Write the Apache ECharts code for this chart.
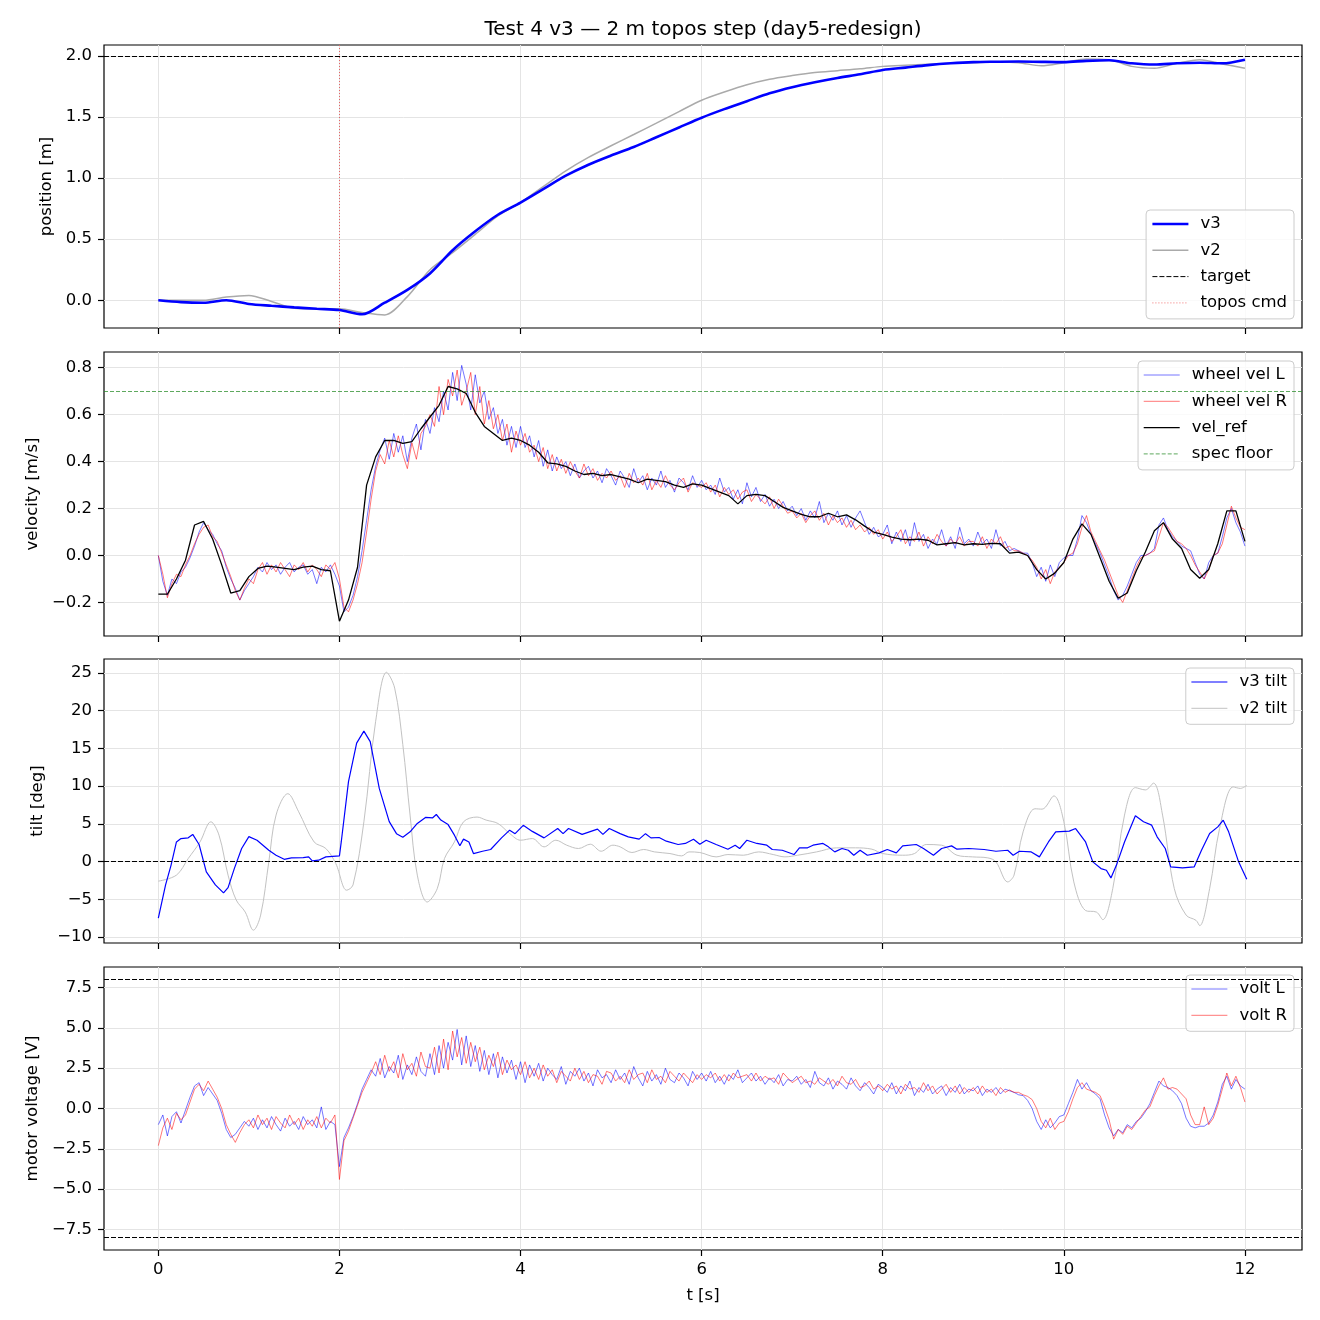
<!DOCTYPE html>
<html>
<head>
<meta charset="utf-8">
<title>Test 4 v3 — 2 m topos step</title>
<script src="https://cdn.jsdelivr.net/npm/echarts@6/dist/echarts.min.js"></script>
<style>
  html, body { margin: 0; padding: 0; background: #ffffff; }
  #chart { width: 1320px; height: 1320px; }
</style>
</head>
<body>
<div id="chart"></div>
<script>
const chart = echarts.init(document.getElementById('chart'));

const TITLE = 'Test 4 v3 — 2 m topos step (day5-redesign)';

// sampling steps of the logged channels [s]
const DT_POS = 0.25;
const DT_REF = 0.1;
const DT_FAST = 0.05;

const X_TICKS = [0, 2, 4, 6, 8, 10, 12];
const POS_TICKS = [0, 0.5, 1, 1.5, 2];
const VEL_TICKS = [-0.2, 0, 0.2, 0.4, 0.6, 0.8];
const TILT_TICKS = [-10, -5, 0, 5, 10, 15, 20, 25];
const VOLT_TICKS = [-7.5, -5, -2.5, 0, 2.5, 5, 7.5];

const TARGET = 2.0;
const TOPOS_T = 2.0;
const SPEC_FLOOR = 0.7;
const VOLT_LIMIT = 8;

// position [m], every 0.25 s
const posV3 = [0.0, -0.015, -0.02, 0.0, -0.03, -0.045, -0.058, -0.07, -0.08, -0.115,
  -0.02, 0.085, 0.22, 0.41, 0.565, 0.70, 0.80, 0.91, 1.02, 1.11,
  1.185, 1.255, 1.335, 1.415, 1.495, 1.565, 1.63, 1.695, 1.745, 1.785,
  1.82, 1.85, 1.885, 1.905, 1.925, 1.94, 1.95, 1.953, 1.955, 1.952,
  1.95, 1.96, 1.965, 1.94, 1.93, 1.94, 1.945, 1.94, 1.97];
const posV2 = [0.0, 0.0, 0.0, 0.027, 0.04, -0.01, -0.065, -0.07, -0.07, -0.10,
  -0.12, 0.03, 0.25, 0.39, 0.54, 0.69, 0.80, 0.93, 1.06, 1.17,
  1.265, 1.357, 1.45, 1.545, 1.638, 1.705, 1.765, 1.81, 1.84, 1.865,
  1.88, 1.895, 1.915, 1.925, 1.933, 1.94, 1.945, 1.95, 1.945, 1.92,
  1.945, 1.975, 1.97, 1.915, 1.90, 1.94, 1.97, 1.935, 1.90];

// wheel velocity [m/s], every 0.05 s
const wheelL = [
  0, -0.11, -0.17, -0.10, -0.12, -0.07, -0.05, -0.01, 0.04, 0.10, 0.14, 0.11, 0.09, 0.05, 0.02, -0.05, -0.10, -0.14, -0.19, -0.15,
  -0.12, -0.09, -0.05, -0.07, -0.03, -0.06, -0.04, -0.08, -0.05, -0.03, -0.07, -0.05, -0.04, -0.08, -0.06, -0.12, -0.05, -0.07, -0.04, -0.08,
  -0.13, -0.24, -0.22, -0.17, -0.09, 0.02, 0.15, 0.28, 0.38, 0.45, 0.50, 0.41, 0.52, 0.44, 0.51, 0.40, 0.50, 0.56, 0.45, 0.58,
  0.52, 0.63, 0.57, 0.70, 0.62, 0.78, 0.66, 0.81, 0.73, 0.62, 0.77, 0.65, 0.70, 0.58, 0.63, 0.52, 0.58, 0.47, 0.55, 0.46,
  0.55, 0.46, 0.51, 0.42, 0.49, 0.38, 0.45, 0.36, 0.42, 0.37, 0.40, 0.34, 0.39, 0.33, 0.36, 0.38, 0.33, 0.36, 0.31, 0.37,
  0.34, 0.30, 0.36, 0.33, 0.29, 0.37, 0.31, 0.34, 0.28, 0.33, 0.30, 0.36, 0.29, 0.32, 0.27, 0.33, 0.31, 0.28, 0.34, 0.29,
  0.32, 0.28, 0.30, 0.26, 0.33, 0.27, 0.29, 0.24, 0.28, 0.22, 0.31, 0.25, 0.29, 0.23, 0.26, 0.21, 0.24, 0.20, 0.23, 0.19,
  0.21, 0.17, 0.20, 0.15, 0.19, 0.16, 0.23, 0.14, 0.18, 0.15, 0.19, 0.13, 0.17, 0.12, 0.16, 0.19, 0.14, 0.09, 0.12, 0.08,
  0.09, 0.13, 0.05, 0.10, 0.06, 0.11, 0.04, 0.14, 0.06, 0.09, 0.03, 0.07, 0.05, 0.11, 0.04, 0.08, 0.03, 0.12, 0.05, 0.07,
  0.04, 0.10, 0.05, 0.07, 0.03, 0.11, 0.04, 0.06, 0.02, 0.03, 0.02, 0.01, 0.01, -0.03, -0.09, -0.05, -0.11, -0.04, -0.09, -0.03,
  -0.01, 0.00, 0.00, 0.07, 0.17, 0.14, 0.09, 0.05, 0.01, -0.04, -0.09, -0.15, -0.19, -0.17, -0.13, -0.08, -0.03, 0.00, 0.00, 0.01,
  0.03, 0.13, 0.16, 0.11, 0.08, 0.06, 0.04, 0.03, 0.02, -0.03, -0.08, -0.10, -0.03, 0.00, 0.01, 0.08, 0.16, 0.20, 0.14, 0.10,
  0.04];
const wheelR = [
  0, -0.08, -0.18, -0.12, -0.08, -0.09, -0.04, 0.00, 0.05, 0.09, 0.12, 0.13, 0.08, 0.06, 0.01, -0.04, -0.09, -0.15, -0.19, -0.14,
  -0.10, -0.12, -0.06, -0.03, -0.08, -0.04, -0.07, -0.03, -0.06, -0.09, -0.04, -0.06, -0.03, -0.07, -0.04, -0.06, -0.09, -0.04, -0.06, -0.03,
  -0.10, -0.22, -0.24, -0.19, -0.12, -0.03, 0.10, 0.24, 0.36, 0.43, 0.39, 0.49, 0.42, 0.51, 0.43, 0.37, 0.48, 0.41, 0.52, 0.55,
  0.60, 0.55, 0.72, 0.60, 0.75, 0.68, 0.79, 0.64, 0.70, 0.78, 0.60, 0.72, 0.56, 0.66, 0.54, 0.60, 0.49, 0.56, 0.44, 0.53,
  0.47, 0.52, 0.44, 0.47, 0.40, 0.46, 0.37, 0.43, 0.36, 0.41, 0.35, 0.40, 0.36, 0.33, 0.39, 0.34, 0.37, 0.32, 0.35, 0.33,
  0.36, 0.32, 0.34, 0.29, 0.35, 0.31, 0.33, 0.30, 0.35, 0.28, 0.32, 0.29, 0.34, 0.30, 0.28, 0.31, 0.33, 0.27, 0.31, 0.30,
  0.29, 0.31, 0.27, 0.30, 0.25, 0.29, 0.26, 0.28, 0.24, 0.27, 0.28, 0.23, 0.26, 0.24, 0.22, 0.25, 0.20, 0.24, 0.21, 0.18,
  0.19, 0.16, 0.18, 0.14, 0.17, 0.19, 0.15, 0.18, 0.13, 0.17, 0.14, 0.16, 0.12, 0.15, 0.11, 0.13, 0.10, 0.12, 0.09, 0.11,
  0.07, 0.10, 0.06, 0.08, 0.11, 0.05, 0.08, 0.06, 0.10, 0.04, 0.08, 0.05, 0.09, 0.06, 0.04, 0.07, 0.05, 0.08, 0.04, 0.06,
  0.06, 0.04, 0.08, 0.03, 0.07, 0.05, 0.08, 0.03, 0.04, 0.02, 0.02, 0.01, 0.00, -0.02, -0.05, -0.10, -0.06, -0.12, -0.07, -0.05,
  -0.03, 0.00, 0.01, 0.05, 0.12, 0.17, 0.10, 0.06, 0.02, -0.02, -0.07, -0.12, -0.17, -0.20, -0.15, -0.10, -0.05, -0.01, 0.00, 0.01,
  0.02, 0.08, 0.14, 0.12, 0.09, 0.06, 0.05, 0.03, 0.00, -0.04, -0.07, -0.10, -0.06, 0.00, 0.01, 0.05, 0.13, 0.21, 0.16, 0.12,
  0.11];

// velocity reference [m/s], every 0.1 s
const velRef = [
  -0.165, -0.165, -0.10, -0.02, 0.13, 0.145, 0.07, -0.04, -0.16, -0.15,
  -0.09, -0.055, -0.045, -0.05, -0.055, -0.06, -0.05, -0.045, -0.06, -0.065,
  -0.28, -0.19, -0.05, 0.30, 0.42, 0.49, 0.49, 0.478, 0.485, 0.54,
  0.59, 0.64, 0.72, 0.71, 0.69, 0.61, 0.55, 0.52, 0.49, 0.50,
  0.49, 0.47, 0.44, 0.395, 0.39, 0.38, 0.36, 0.345, 0.35, 0.34,
  0.345, 0.335, 0.325, 0.31, 0.325, 0.32, 0.315, 0.30, 0.29, 0.305,
  0.30, 0.285, 0.27, 0.255, 0.22, 0.255, 0.26, 0.255, 0.23, 0.205,
  0.19, 0.175, 0.165, 0.165, 0.18, 0.165, 0.173, 0.152, 0.125, 0.10,
  0.09, 0.078, 0.07, 0.067, 0.07, 0.065, 0.045, 0.05, 0.055, 0.045,
  0.05, 0.047, 0.052, 0.05, 0.01, 0.014, 0.0, -0.06, -0.10, -0.075,
  -0.03, 0.07, 0.135, 0.09, -0.01, -0.11, -0.182, -0.16, -0.065, 0.015,
  0.105, 0.14, 0.07, 0.03, -0.06, -0.097, -0.06, 0.05, 0.19, 0.19,
  0.06];

// tilt [deg], read at irregular times
const tiltV3T = [0, 0.08, 0.14, 0.2, 0.25, 0.33, 0.38, 0.45, 0.53, 0.63, 0.72, 0.77, 0.84, 0.92, 1.0, 1.09, 1.22, 1.3, 1.39, 1.47,
  1.6, 1.66, 1.7, 1.77, 1.85, 2.0, 2.02, 2.1, 2.19, 2.27, 2.34, 2.44, 2.55, 2.63, 2.7, 2.78, 2.86, 2.95, 3.03, 3.07,
  3.12, 3.2, 3.27, 3.33, 3.37, 3.43, 3.48, 3.58, 3.67, 3.79, 3.88, 3.94, 4.03, 4.13, 4.26, 4.41, 4.47, 4.53, 4.68, 4.85,
  4.91, 4.98, 5.1, 5.19, 5.31, 5.38, 5.44, 5.53, 5.61, 5.74, 5.82, 5.91, 5.98, 6.05, 6.16, 6.29, 6.37, 6.42, 6.5, 6.61,
  6.72, 6.78, 6.89, 7.02, 7.08, 7.17, 7.23, 7.34, 7.4, 7.47, 7.55, 7.62, 7.68, 7.75, 7.83, 7.96, 8.05, 8.15, 8.22, 8.37,
  8.45, 8.56, 8.65, 8.76, 8.82, 8.95, 9.12, 9.25, 9.38, 9.44, 9.51, 9.64, 9.73, 9.83, 9.91, 10.06, 10.13, 10.24, 10.32, 10.41,
  10.47, 10.52, 10.58, 10.67, 10.79, 10.88, 10.97, 11.03, 11.12, 11.18, 11.31, 11.44, 11.52, 11.61, 11.7, 11.76, 11.82, 11.93, 12.02];
const tiltV3 = [-7.5, -3.1, -0.5, 2.6, 3.05, 3.15, 3.6, 2.26, -1.37, -3.1, -4.16, -3.45, -0.9, 1.73, 3.3, 2.83, 1.5, 0.84, 0.3, 0.49,
  0.53, 0.62, 0.1, 0.18, 0.62, 0.75, 2.6, 10.6, 15.7, 17.3, 15.9, 9.7, 5.3, 3.7, 3.23, 3.94, 5.05, 5.85, 5.8, 6.24,
  5.5, 4.9, 3.5, 2.1, 2.97, 2.6, 1.06, 1.37, 1.6, 3.14, 4.16, 3.7, 4.8, 4.0, 3.14, 4.38, 3.7, 4.38, 3.6, 4.3,
  3.6, 4.38, 3.7, 3.28, 2.97, 3.7, 3.14, 3.19, 2.7, 2.26, 2.4, 2.97, 2.3, 2.83, 2.26, 1.64, 2.17, 1.73, 2.83, 2.4,
  2.17, 1.6, 1.5, 0.93, 1.82, 1.82, 2.17, 2.4, 1.95, 1.28, 1.73, 1.5, 0.84, 1.5, 0.84, 1.15, 1.6, 1.15, 2.08, 2.26,
  1.73, 0.84, 1.73, 2.08, 1.64, 1.73, 1.6, 1.37, 1.5, 0.84, 1.37, 1.28, 0.62, 2.6, 3.94, 4.03, 4.38, 2.6, -0.04, -0.93,
  -1.15, -2.17, -0.5, 2.6, 6.07, 5.27, 4.83, 3.28, 1.73, -0.7, -0.84, -0.7, 1.5, 3.72, 4.6, 5.49, 3.94, -0.04, -2.35];
const tiltV2T = [0, 0.2, 0.33, 0.46, 0.58, 0.67, 0.77, 0.86, 0.96, 1.05, 1.13, 1.22, 1.3, 1.43, 1.55, 1.72, 1.85, 1.96, 2.08, 2.15,
  2.27, 2.4, 2.52, 2.61, 2.7, 2.78, 2.86, 2.97, 3.08, 3.16, 3.27, 3.37, 3.52, 3.62, 3.75, 3.88, 4.0, 4.13, 4.26, 4.39,
  4.51, 4.64, 4.77, 4.89, 5.02, 5.1, 5.23, 5.36, 5.48, 5.65, 5.78, 5.86, 5.98, 6.16, 6.29, 6.46, 6.63, 6.79, 6.92, 7.06,
  7.27, 7.49, 7.7, 7.88, 8.0, 8.22, 8.35, 8.48, 8.65, 8.82, 8.99, 9.16, 9.25, 9.38, 9.45, 9.55, 9.68, 9.76, 9.89, 10.0,
  10.11, 10.24, 10.36, 10.43, 10.54, 10.67, 10.79, 10.9, 10.99, 11.09, 11.22, 11.35, 11.46, 11.5, 11.61, 11.72, 11.87, 11.95, 12.02];
const tiltV2 = [-2.6, -1.8, 0.4, 2.6, 5.27, 3.5, -1.8, -5.1, -6.7, -9.1, -7.1, -0.04, 6.16, 9.0, 6.6, 2.6, 1.73, -0.27, -3.8, -3.1,
  5.27, 18.6, 25.1, 23.0, 15.5, 6.16, -1.8, -5.36, -3.6, 0.4, 2.6, 5.27, 5.9, 5.5, 5.05, 3.72, 2.83, 3.05, 1.95, 2.83,
  2.17, 1.73, 2.3, 1.37, 2.17, 1.95, 1.2, 1.6, 1.28, 1.06, 0.75, 1.28, 1.2, 0.62, 0.93, 0.84, 1.28, 0.93, 0.62, 0.84,
  1.28, 1.82, 1.82, 1.64, 1.06, 0.84, 1.06, 2.26, 2.17, 0.84, 0.62, 0.49, -0.04, -2.7, -1.8, 3.94, 7.0, 6.95, 8.7, 5.27,
  -2.7, -6.5, -6.7, -7.7, -3.6, 6.16, 9.8, 9.5, 10.4, 6.16, -3.6, -7.1, -7.8, -8.5, -3.6, 4.4, 9.9, 9.7, 10.1];

// motor voltage [V], every 0.05 s
const voltL = [
  -1.0, -0.4, -1.7, -0.5, -0.2, -0.9, -0.1, 0.7, 1.4, 1.6, 0.8, 1.3, 0.9, 0.5, -0.3, -1.3, -1.8, -1.6, -1.2, -0.8,
  -1.1, -0.6, -1.3, -0.7, -1.2, -0.5, -1.0, -1.4, -0.6, -1.1, -0.8, -1.3, -0.5, -1.0, -0.7, -1.2, 0.1, -1.3, -0.8, -1.0,
  -3.6, -1.8, -1.2, -0.5, 0.3, 1.2, 1.8, 2.4, 2.0, 3.1, 1.9, 2.6, 2.2, 3.3, 1.8, 2.7, 2.1, 3.2, 2.3, 2.0,
  3.4, 2.1, 3.9, 2.5, 4.1, 3.0, 4.9, 2.7, 4.5, 2.6, 3.9, 2.3, 3.6, 2.1, 3.4, 1.9, 3.2, 2.2, 3.0, 1.8,
  2.9, 1.6, 2.7, 2.0, 2.8, 1.7, 2.5, 2.1, 1.8, 2.6, 1.5, 2.3, 2.0, 2.5, 1.7, 2.2, 1.4, 2.4, 1.9, 2.1,
  1.6, 2.4, 1.8, 2.2, 1.5, 2.6, 1.9, 1.4, 2.3, 1.7, 2.1, 1.5, 2.5, 1.8, 1.6, 2.2, 1.9, 1.4, 2.3, 1.8,
  2.2, 1.7, 2.3, 1.6, 2.0, 1.5, 2.1, 1.8, 2.4, 1.6, 1.9, 2.2, 1.7, 2.0, 1.5, 1.9, 1.6, 2.1, 1.4, 1.8,
  1.7, 2.0, 1.5, 1.8, 1.3, 2.3, 1.6, 1.4, 1.9, 1.2, 1.7, 1.5, 1.2, 1.9, 1.4, 1.1, 1.6, 1.3, 0.9, 1.5,
  1.3, 1.0, 1.6, 0.9, 1.4, 1.1, 1.7, 0.8, 1.3, 1.0, 1.5, 0.9, 1.2, 1.4, 0.8, 1.3, 1.0, 1.5, 0.9, 1.2,
  1.1, 1.4, 0.8, 1.2, 1.0, 1.3, 0.9, 1.2, 1.1, 1.0, 0.85, 0.8, 0.5, 0.0, -0.8, -1.3, -0.7, -1.2, -0.9, -0.5,
  -0.4, 0.3, 1.0, 1.8, 1.2, 1.6, 1.1, 0.9, 0.6, -0.4, -1.2, -1.7, -1.3, -1.5, -1.0, -1.2, -0.8, -0.6, -0.2, 0.3,
  1.0, 1.7, 1.4, 1.3, 1.1, 0.8, 0.3, -0.6, -1.1, -1.2, -1.1, -1.1, -0.9, -0.4, 0.4, 1.5, 2.0, 1.2, 1.8, 1.4,
  1.2];
const voltR = [
  -2.3, -1.2, -0.6, -1.3, -0.3, -0.7, -0.4, 0.4, 1.2, 1.5, 1.1, 1.7, 1.2, 0.7, 0.0, -1.0, -1.6, -2.1, -1.5, -1.0,
  -0.7, -1.2, -0.4, -1.0, -0.6, -1.3, -0.5, -0.9, -1.2, -0.4, -1.0, -0.6, -1.3, -0.7, -1.1, -0.5, -1.2, -0.6, -0.9, -0.4,
  -4.4, -2.0, -1.4, -0.6, 0.2, 1.0, 1.6, 2.2, 2.9, 2.1, 3.3, 2.3, 2.9, 1.9, 3.4, 2.4, 2.8, 2.0, 3.5, 2.6,
  2.5, 3.8, 2.2, 4.3, 2.4, 4.8, 3.2, 4.4, 2.8, 4.1, 2.9, 3.8, 2.4, 3.3, 2.6, 3.5, 2.1, 3.0, 2.4, 2.7,
  2.1, 2.9, 1.9, 2.5, 1.8, 2.7, 2.0, 2.4, 1.6, 2.3, 2.0, 1.7, 2.5, 1.8, 2.3, 1.6, 2.1, 2.0, 1.5, 2.3,
  2.2, 1.7, 2.0, 1.6, 2.4, 1.8, 2.1, 2.2, 1.6, 2.4, 1.8, 2.0, 1.6, 2.3, 2.0, 1.7, 2.2, 1.9, 1.6, 2.1,
  1.8, 2.1, 1.9, 2.2, 1.7, 2.1, 1.7, 2.2, 1.9, 2.0, 2.1, 1.7, 2.2, 1.7, 2.0, 1.8, 1.9, 1.5, 2.2, 1.9,
  1.6, 1.8, 2.0, 1.6, 1.7, 1.5, 1.9, 1.7, 1.5, 1.8, 1.4, 2.0, 1.6, 1.5, 1.8, 1.3, 1.4, 1.7, 1.2, 1.4,
  1.1, 1.5, 1.2, 1.4, 0.9, 1.5, 1.2, 1.3, 1.0, 1.6, 1.1, 1.4, 0.9, 1.2, 1.5, 1.0, 1.4, 0.9, 1.3, 1.0,
  1.3, 0.9, 1.4, 1.0, 1.2, 0.8, 1.3, 1.0, 1.15, 1.0, 1.0, 0.85, 0.75, 0.55, 0.0, -0.8, -1.2, -0.6, -1.3, -0.9,
  -0.8, -0.2, 0.6, 1.3, 1.6, 1.2, 1.1, 1.0, 0.8, 0.1, -0.7, -1.9, -1.3, -1.6, -1.1, -1.3, -0.9, -0.5, -0.1, 0.1,
  0.8, 1.4, 1.9, 1.2, 1.3, 1.2, 0.9, 0.6, -0.4, -1.0, -1.0, 0.1, -1.0, -0.6, 0.2, 1.2, 2.2, 1.4, 2.0, 1.3,
  0.4];

// ---- helpers ----
function onGrid(values, dt) {
  return values.map((v, i) => [Math.round(i * dt * 1000) / 1000, v]);
}
function zipT(ts, vs) {
  return ts.map((t, i) => [t, vs[i]]);
}
function fmt(digits) {
  return v => (v < 0 ? '\u2212' : '') + Math.abs(v).toFixed(digits);
}

const FONT = 'DejaVu Sans';
const FS = 16.5;
const GRID_LEFT = 104;
const GRID_W = 1198;
const panels = [
  { top: 45,  height: 283, min: -0.227, max: 2.09,  ticks: POS_TICKS,  digits: 1, name: 'position [m]',      gap: 46 },
  { top: 352, height: 284, min: -0.343, max: 0.867, ticks: VEL_TICKS,  digits: 1, name: 'velocity [m/s]',    gap: 59 },
  { top: 659, height: 284, min: -10.8,  max: 26.86, ticks: TILT_TICKS, digits: 0, name: 'tilt [deg]',        gap: 53 },
  { top: 967, height: 283, min: -8.77,  max: 8.77,  ticks: VOLT_TICKS, digits: 1, name: 'motor voltage [V]', gap: 59 }
];

const grids = panels.map(p => ({
  left: GRID_LEFT, width: GRID_W, top: p.top, height: p.height,
  show: true, borderColor: '#000000', borderWidth: 1.2, backgroundColor: '#ffffff'
}));

const xAxes = panels.map((p, i) => ({
  type: 'value', gridIndex: i, min: -0.6, max: 12.63,
  name: i === 3 ? 't [s]' : '',
  nameLocation: 'middle', nameGap: 37,
  nameTextStyle: { fontFamily: FONT, fontSize: FS, color: '#000000' },
  axisLine: { show: false, onZero: false },
  axisTick: { show: true, length: 6, lineStyle: { color: '#000000', width: 1.2 }, customValues: X_TICKS },
  axisLabel: { show: i === 3, customValues: X_TICKS, margin: 11, fontFamily: FONT, fontSize: FS, color: '#000000',
               formatter: v => String(Math.round(v)) },
  splitLine: { show: true, lineStyle: { color: '#e4e4e4', width: 1 } }
}));

const yAxes = panels.map((p, i) => ({
  type: 'value', gridIndex: i, min: p.min, max: p.max,
  name: p.name, nameLocation: 'middle', nameGap: p.gap,
  nameTextStyle: { fontFamily: FONT, fontSize: FS, color: '#000000' },
  axisLine: { show: false, onZero: false },
  axisTick: { show: true, length: 6, lineStyle: { color: '#000000', width: 1.2 }, customValues: p.ticks },
  axisLabel: { customValues: p.ticks, margin: 12, fontFamily: FONT, fontSize: FS, color: '#000000',
               formatter: fmt(p.digits) },
  splitLine: { show: true, lineStyle: { color: '#e4e4e4', width: 1 } }
}));

function line(name, data, idx, color, width, extra) {
  return Object.assign({
    name: name, type: 'line', xAxisIndex: idx, yAxisIndex: idx, data: data,
    symbol: 'none', smooth: false, animation: false, silent: true,
    lineStyle: { color: color, width: width },
    itemStyle: { color: color },
    emphasis: { disabled: true }
  }, extra || {});
}
function marks(list, color, width, type) {
  return {
    silent: true, symbol: ['none', 'none'], animation: false,
    label: { show: false }, emphasis: { disabled: true },
    lineStyle: { color: color, width: width, type: type },
    data: list
  };
}
function refLine(name, idx, color, width, type, list) {
  return line(name, [], idx, color, width, {
    lineStyle: { color: color, width: width, type: type },
    markLine: marks(list, color, width, type)
  });
}

const series = [
  // position
  line('v2', onGrid(posV2, DT_POS), 0, '#aaaaaa', 1.5, { smooth: 0.3 }),
  line('v3', onGrid(posV3, DT_POS), 0, '#0000ff', 2.6, { smooth: 0.3 }),
  refLine('target', 0, '#000000', 1, [5, 2], [{ yAxis: TARGET }]),
  refLine('topos cmd', 0, 'rgba(230,0,0,0.7)', 0.8, [1, 2], [{ xAxis: TOPOS_T }]),
  // velocity
  line('wheel vel L', onGrid(wheelL, DT_FAST), 1, 'rgba(0,0,255,0.6)', 0.9),
  line('wheel vel R', onGrid(wheelR, DT_FAST), 1, 'rgba(255,0,0,0.6)', 0.9),
  line('vel_ref', onGrid(velRef, DT_REF), 1, '#000000', 1.3),
  refLine('spec floor', 1, 'rgba(40,140,40,0.75)', 1, [4, 2], [{ yAxis: SPEC_FLOOR }]),
  // tilt
  line('v2 tilt', zipT(tiltV2T, tiltV2), 2, '#c2c2c2', 1, { smooth: 0.35 }),
  line('v3 tilt', zipT(tiltV3T, tiltV3), 2, '#0000ff', 1.2, {
    markLine: marks([{ yAxis: 0 }], '#000000', 1, [5, 2])
  }),
  // motor voltage
  line('volt L', onGrid(voltL, DT_FAST), 3, 'rgba(0,0,255,0.6)', 0.9, {
    markLine: marks([{ yAxis: VOLT_LIMIT }, { yAxis: -VOLT_LIMIT }], '#000000', 1, [5, 2])
  }),
  line('volt R', onGrid(voltR, DT_FAST), 3, 'rgba(255,0,0,0.6)', 0.9)
];

function legend(names, top) {
  return {
    data: names, orient: 'vertical', right: 26, top: top,
    itemWidth: 36, itemHeight: 18, itemGap: 8.3,
    padding: [5, 7, 7, 5],
    backgroundColor: 'rgba(255,255,255,0.8)',
    borderColor: '#cccccc', borderWidth: 1, borderRadius: 4,
    selectedMode: false,
    textStyle: { fontFamily: FONT, fontSize: FS, color: '#000000', lineHeight: 18, padding: [0, 0, 0, 7] },
    lineStyle: { width: 'inherit' },
    itemStyle: { opacity: 0 },
    inactiveColor: '#000000'
  };
}

const option = {
  animation: false,
  backgroundColor: '#ffffff',
  title: {
    text: TITLE, left: 703, top: 20, padding: 0, textAlign: 'center',
    textStyle: { fontFamily: FONT, fontSize: 20, fontWeight: 'normal', color: '#000000' }
  },
  grid: grids,
  xAxis: xAxes,
  yAxis: yAxes,
  legend: [
    legend(['v3', 'v2', 'target', 'topos cmd'], 210),
    legend(['wheel vel L', 'wheel vel R', 'vel_ref', 'spec floor'], 361),
    legend(['v3 tilt', 'v2 tilt'], 668),
    legend(['volt L', 'volt R'], 975)
  ],
  series: series
};

chart.setOption(option);
</script>
</body>
</html>
